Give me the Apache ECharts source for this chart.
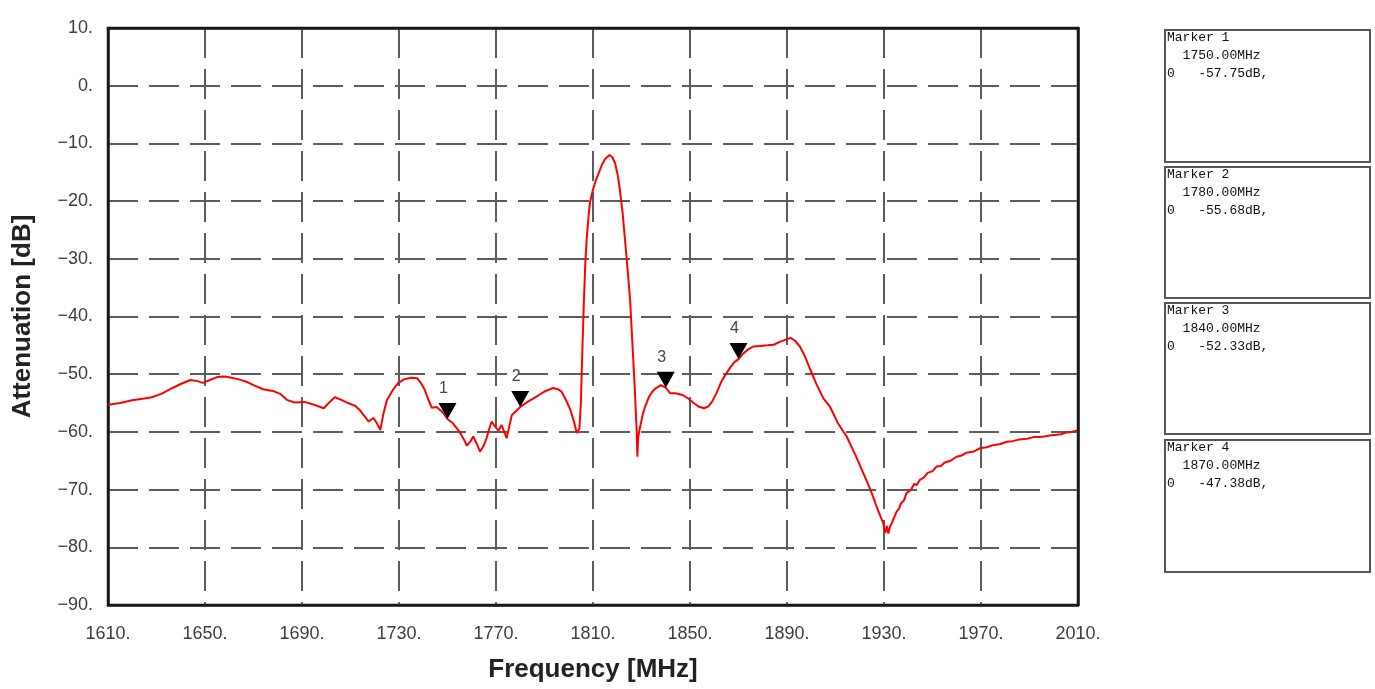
<!DOCTYPE html>
<html>
<head>
<meta charset="utf-8">
<title>Filter attenuation sweep</title>
<script src="https://cdn.jsdelivr.net/npm/echarts@6/dist/echarts.min.js"></script>
<style>
  html, body { margin: 0; padding: 0; background: #fff; }
  #chart { width: 1375px; height: 689px; }
</style>
</head>
<body>
<div id="chart"></div>
<script>
// Sweep range and axis steps
const startMHz = 1610;
const stopMHz = 2010;
const stepMHz = 40;
const dbMin = -90;
const dbMax = 10;
const dbStep = 10;

// Measured trace: frequency (MHz) and attenuation (dB)
const freqMHz = [
  1610, 1615, 1620, 1625, 1628, 1632, 1636, 1640, 1644, 1647,
  1649, 1652, 1655, 1658, 1661, 1664, 1667, 1670, 1674, 1678,
  1681, 1684, 1687, 1691, 1695, 1699, 1701, 1703.5, 1706, 1709,
  1712, 1714, 1716, 1717.5, 1719.5, 1721, 1722.3, 1723.5, 1725, 1727.5,
  1729.5, 1732, 1735, 1737.5, 1739, 1740.5, 1742, 1743.5, 1745.5, 1748,
  1750, 1752, 1755, 1757, 1758, 1759.5, 1760.6, 1762, 1763.4, 1764.8,
  1766.1, 1767.2, 1768.2, 1769.5, 1771, 1772.3, 1773.4, 1774.4, 1775.5, 1776.5,
  1778.5, 1780, 1783, 1786.7, 1790, 1793.6, 1795.5, 1797, 1799, 1800.5,
  1802, 1803.3, 1804.4, 1805, 1805.6, 1806.2, 1806.8, 1807.4, 1808.2, 1808.8,
  1810, 1811, 1812.5, 1813.6, 1815, 1816.8, 1818, 1819.1, 1820.2, 1821.1,
  1822.2, 1823.2, 1824.3, 1825.3, 1826.1, 1826.9, 1827.5, 1828, 1828.3, 1828.6,
  1829.4, 1830.5, 1831.5, 1833, 1834.5, 1836, 1838, 1840, 1841.8, 1844,
  1847, 1849.5, 1851.5, 1853.5, 1855.8, 1857.5, 1859.2, 1861, 1862.8, 1864.5,
  1866.5, 1868.3, 1870, 1872, 1874, 1876.1, 1879, 1882, 1884.5, 1887,
  1889.5, 1891.5, 1893.3, 1895.3, 1897.5, 1899.5, 1902, 1905, 1907.7, 1911,
  1914.6, 1918, 1921.5, 1924.5, 1927, 1928.5, 1929.7, 1930.5, 1931.2, 1931.8,
  1932.5, 1933.2, 1934, 1935.2, 1936.2, 1937, 1938.2, 1939.3, 1941, 1942.5,
  1943.5, 1944.8, 1946.5, 1948, 1950, 1951.7, 1953.5, 1955, 1957.5, 1959.9,
  1962, 1964, 1967, 1969.6, 1972, 1975, 1978, 1980.6, 1983, 1986,
  1989, 1991.6, 1994, 1996, 1999, 2001.2, 2003, 2005, 2007.5, 2010
];
const attenuationDb = [
  -55.3, -55.0, -54.5, -54.2, -54.0, -53.4, -52.5, -51.7, -51.0, -51.2,
  -51.5, -51.0, -50.5, -50.4, -50.6, -50.9, -51.3, -51.9, -52.6, -52.9,
  -53.4, -54.5, -54.9, -54.8, -55.3, -55.9, -55.0, -54.0, -54.4, -55.0,
  -55.5, -56.3, -57.4, -58.2, -57.6, -58.6, -59.7, -57.0, -54.5, -52.7,
  -51.6, -50.9, -50.6, -50.7, -51.5, -52.6, -54.3, -55.8, -55.7, -56.6,
  -57.75, -58.4, -60.0, -61.5, -62.4, -61.6, -60.8, -62.0, -63.4, -62.5,
  -61.1, -59.5, -58.2, -59.0, -59.8, -58.8, -60.0, -61.1, -59.0, -57.1,
  -56.3, -55.68, -54.8, -53.9, -53.0, -52.4, -52.6, -53.0, -54.6, -56.0,
  -58.0, -60.2, -59.4, -55.0, -46.0, -38.0, -31.0, -26.5, -22.5, -20.1,
  -18.0, -16.6, -15.0, -13.8, -12.7, -12.0, -12.4, -13.4, -15.5, -18.1,
  -22.0, -26.7, -32.0, -37.1, -43.5, -49.8, -55.0, -59.7, -64.3, -61.0,
  -59.2, -57.0, -55.6, -54.0, -53.0, -52.4, -51.9, -52.33, -53.3, -53.3,
  -53.6, -54.3, -55.0, -55.6, -55.9, -55.6, -54.7, -53.2, -51.4, -50.2,
  -48.9, -47.9, -47.38, -46.4, -45.7, -45.2, -45.1, -45.0, -44.9, -44.4,
  -44.0, -43.7, -44.2, -45.2, -47.0, -49.1, -51.6, -54.2, -55.6, -58.5,
  -60.8, -63.8, -67.2, -70.1, -73.0, -74.6, -75.8, -77.5, -76.3, -77.6,
  -76.4, -75.8, -75.0, -73.8, -73.3, -72.4, -71.9, -70.6, -70.1, -69.0,
  -69.2, -68.3, -67.9, -67.1, -66.8, -66.0, -65.9, -65.3, -65.0, -64.3,
  -64.1, -63.6, -63.4, -62.8, -62.7, -62.3, -62.1, -61.7, -61.6, -61.3,
  -61.2, -60.9, -60.9, -60.8, -60.6, -60.5, -60.4, -60.1, -60.0, -59.7
];

// Marker readouts
const markerFreqMHz = [1750, 1780, 1840, 1870];
const markerDb = [-57.75, -55.68, -52.33, -47.38];

// Axis titles
const xTitle = 'Frequency [MHz]';
const yTitle = 'Attenuation [dB]';

// The x axis runs on MHz above the sweep start so its ticks begin at the start frequency
const traceData = freqMHz.map((f, i) => [f - startMHz, attenuationDb[i]]);
const markerData = markerFreqMHz.map((f, i) => [f - startMHz, markerDb[i]]);

const gridLine = { color: '#5c5c5c', width: 2, type: [30, 11] };
const tickFont = { color: '#3c3c3c', fontSize: 18, fontFamily: 'Liberation Sans, Arial, sans-serif' };
const titleFont = { color: '#222', fontSize: 26, fontWeight: 'bold', fontFamily: 'Liberation Sans, Arial, sans-serif' };
const frameLine = { color: '#1a1a1a', width: 2.5 };

// Marker readout panels on the right
const panel = { x: 1165, w: 205, tops: [30, 167, 303, 440], heights: [132, 131, 131, 132] };
const panelGraphics = [];
markerFreqMHz.forEach((f, i) => {
  const top = panel.tops[i];
  panelGraphics.push({
    type: 'rect',
    shape: { x: panel.x, y: top, width: panel.w, height: panel.heights[i] },
    style: { fill: '#fff', stroke: '#555', lineWidth: 2 }
  });
  const lines = [
    'Marker ' + (i + 1),
    '  ' + f.toFixed(2) + 'MHz',
    '0   ' + markerDb[i].toFixed(2) + 'dB,'
  ];
  lines.forEach((t, k) => {
    panelGraphics.push({
      type: 'text',
      x: panel.x + 2,
      y: top + 8 + k * 18,
      style: {
        text: t,
        fill: '#111',
        font: '13px "Liberation Mono", "DejaVu Sans Mono", monospace',
        textVerticalAlign: 'middle'
      }
    });
  });
});

const chart = echarts.init(document.getElementById('chart'), null, { renderer: 'canvas' });
chart.setOption({
  animation: false,
  backgroundColor: '#fff',
  grid: {
    left: 108, right: 297, top: 28, bottom: 84,
    show: true, borderColor: frameLine.color, borderWidth: frameLine.width, backgroundColor: 'transparent'
  },
  xAxis: [
    {
      type: 'value',
      min: 0,
      max: stopMHz - startMHz,
      interval: stepMHz,
      name: xTitle,
      nameLocation: 'middle',
      nameGap: 52,
      nameTextStyle: titleFont,
      axisLine: { show: true, onZero: false, lineStyle: frameLine },
      axisTick: { show: false },
      axisLabel: Object.assign({ margin: 20, showMinLabel: true, showMaxLabel: true,
        formatter: v => (v + startMHz) + '.' }, tickFont),
      splitLine: { show: true, showMinLine: false, showMaxLine: false, lineStyle: gridLine },
      z: 1
    },
    {
      type: 'value',
      position: 'top',
      min: 0,
      max: stopMHz - startMHz,
      axisLine: { show: true, onZero: false, lineStyle: frameLine },
      axisTick: { show: false },
      axisLabel: { show: false },
      splitLine: { show: false },
      z: 20
    }
  ],
  yAxis: [
    {
      type: 'value',
      min: dbMin,
      max: dbMax,
      interval: dbStep,
      name: yTitle,
      nameLocation: 'middle',
      nameGap: 72,
      nameTextStyle: titleFont,
      axisLine: { show: true, onZero: false, lineStyle: frameLine },
      axisTick: { show: false },
      axisLabel: Object.assign({ margin: 15,
        formatter: v => (v < 0 ? '\u2212' : '') + Math.abs(v) + '.' }, tickFont),
      splitLine: { show: true, showMinLine: false, showMaxLine: false, lineStyle: gridLine },
      z: 1
    },
    {
      type: 'value',
      position: 'right',
      min: dbMin,
      max: dbMax,
      axisLine: { show: true, onZero: false, lineStyle: frameLine },
      axisTick: { show: false },
      axisLabel: { show: false },
      splitLine: { show: false },
      z: 20
    }
  ],
  series: [
    {
      name: 'S21',
      type: 'line',
      data: traceData,
      showSymbol: false,
      smooth: false,
      lineStyle: { color: '#ff0000', width: 2 },
      itemStyle: { color: '#ff0000' },
      z: 10
    },
    {
      name: 'Markers',
      type: 'scatter',
      data: markerData,
      symbol: 'path://M0,0 L10,0 L5,10 Z',
      symbolSize: [18, 16],
      symbolOffset: [0, '-50%'],
      itemStyle: { color: '#000', opacity: 1 },
      label: {
        show: true,
        position: 'top',
        distance: 6,
        offset: [-4, 0],
        color: '#444',
        fontSize: 16,
        fontFamily: 'Liberation Sans, Arial, sans-serif',
        formatter: p => String(p.dataIndex + 1)
      },
      z: 11
    }
  ],
  graphic: panelGraphics
});
</script>
</body>
</html>
